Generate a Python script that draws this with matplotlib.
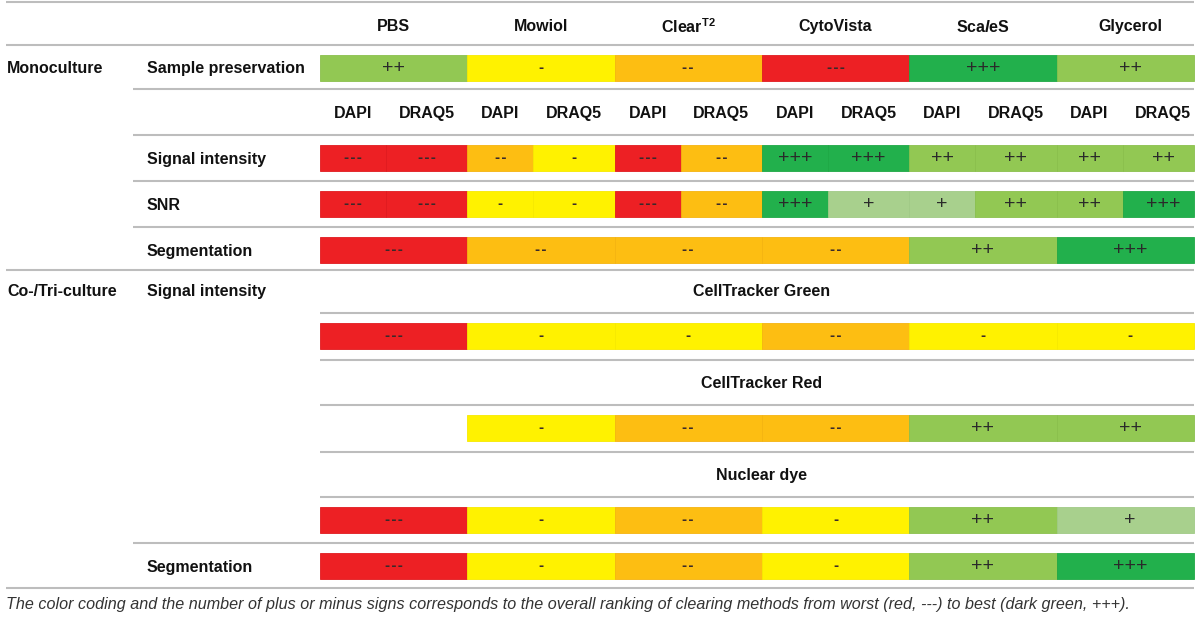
import matplotlib
matplotlib.use("Agg")
import matplotlib.pyplot as plt

plt.rcParams['font.family'] = ['Liberation Sans', 'DejaVu Sans']
plt.rcParams['mathtext.fontset'] = 'custom'
plt.rcParams['mathtext.bf'] = 'Liberation Sans:weight=bold'
plt.rcParams['mathtext.it'] = 'Liberation Sans:style=italic:weight=bold'
plt.rcParams['mathtext.rm'] = 'Liberation Sans:weight=bold'

# ---------------- data ----------------
methods = ['PBS', 'Mowiol', r'Clear$^{\mathbf{T2}}$', 'CytoVista', r'Sca$\mathit{l}$eS', 'Glycerol']
dyes = ['DAPI', 'DRAQ5']

sample_preservation = ['++', '-', '--', '---', '+++', '++']
signal_intensity_mono = ['---', '---', '--', '-', '---', '--', '+++', '+++', '++', '++', '++', '++']
snr_mono = ['---', '---', '-', '-', '---', '--', '+++', '+', '+', '++', '++', '+++']
segmentation_mono = ['---', '--', '--', '--', '++', '+++']
celltracker_green = ['---', '-', '-', '--', '-', '-']
celltracker_red = [None, '-', '--', '--', '++', '++']
nuclear_dye = ['---', '-', '--', '-', '++', '+']
segmentation_co = ['---', '-', '--', '-', '++', '+++']

rating_colors = {
    '---': '#ED2024',
    '--': '#FDBE12',
    '-': '#FFF200',
    '+': '#A8D08D',
    '++': '#92C853',
    '+++': '#22B04C',
}
rating_edges = {
    '---': '#E01A1F',
    '--': '#F5B410',
    '-': '#F7EA00',
    '+': '#A0CA86',
    '++': '#8AC04C',
    '+++': '#1EA845',
}

caption = ("The color coding and the number of plus or minus signs corresponds to the overall "
           "ranking of clearing methods from worst (red, ---) to best (dark green, +++).")

# ---------------- layout ----------------
W, H = 1200, 617
fig = plt.figure(figsize=(W / 100, H / 100), dpi=100)
ax = fig.add_axes([0, 0, 1, 1])
ax.set_xlim(0, W)
ax.set_ylim(H, 0)
ax.axis('off')

col0 = 320.0
colw = 147.3
dapi_w = 66.0
right = 1194.0
cell_h = 26.0

full_lines = [2, 45, 270, 588]
mid_lines = [89, 135, 181, 227, 543]
inner_lines = [313, 360, 405, 452, 497]

line_col = '#BDBDBD'
for y in full_lines:
    ax.plot([6, right], [y, y], color=line_col, lw=1.5, solid_capstyle='butt')
for y in mid_lines:
    ax.plot([133, right], [y, y], color=line_col, lw=1.5, solid_capstyle='butt')
for y in inner_lines:
    ax.plot([col0, right], [y, y], color=line_col, lw=1.5, solid_capstyle='butt')

head_kw = dict(fontsize=11.5, fontweight='bold', color='#111111', va='center_baseline')


def method_span(i):
    x0 = col0 + i * colw
    x1 = min(x0 + colw, right)
    return x0, x1, x0 + colw / 2


def sub_span(j):
    i, k = divmod(j, 2)
    x0 = col0 + i * colw
    if k == 0:
        return x0, x0 + dapi_w, x0 + dapi_w / 2
    return x0 + dapi_w, min(x0 + colw, right), x0 + dapi_w + (colw - dapi_w) / 2


def draw_row(ratings, ytop, spanfunc):
    yc = ytop + 10 + cell_h / 2
    lefts, widths, cols, edges, labels, centers = [], [], [], [], [], []
    for j, r in enumerate(ratings):
        if r is None:
            continue
        x0, x1, cx = spanfunc(j)
        lefts.append(x0)
        widths.append(x1 - x0)
        cols.append(rating_colors[r])
        edges.append(rating_edges[r])
        labels.append(r)
        centers.append(cx)
    ax.barh([yc] * len(lefts), widths, left=lefts, height=cell_h, color=cols,
            edgecolor=edges, linewidth=0.6, align='center')
    for cx, lab in zip(centers, labels):
        if lab.startswith('+'):
            ax.text(cx, yc + 0.5, lab, ha='center', va='center', fontsize=14,
                    family='Liberation Sans', color='#2a2a2a')
        else:
            shown = '\u200a'.join(lab)
            ax.text(cx, yc + 0.8, shown, ha='center', va='center', fontsize=9,
                    family='DejaVu Sans', fontweight='bold', color='#3a2a2a')


# header
for i, m in enumerate(methods):
    x0 = col0 + i * colw
    ax.text(x0 + colw / 2, 25, m, ha='center', **head_kw)

# left labels
ax.text(7, 67, 'Monoculture', ha='left', **head_kw)
ax.text(147, 67, 'Sample preservation', ha='left', **head_kw)
ax.text(147, 158, 'Signal intensity', ha='left', **head_kw)
ax.text(147, 204, 'SNR', ha='left', **head_kw)
ax.text(147, 250, 'Segmentation', ha='left', **head_kw)
ax.text(7, 290, 'Co-/Tri-culture', ha='left', **head_kw)
ax.text(147, 290, 'Signal intensity', ha='left', **head_kw)
ax.text(147, 566, 'Segmentation', ha='left', **head_kw)

# dye sub-headers
for j in range(12):
    _, _, cx = sub_span(j)
    ax.text(cx, 112, dyes[j % 2], ha='center', **head_kw)

# section titles
table_mid = col0 + 3 * colw
ax.text(table_mid, 290, 'CellTracker Green', ha='center', **head_kw)
ax.text(table_mid, 382, 'CellTracker Red', ha='center', **head_kw)
ax.text(table_mid, 474, 'Nuclear dye', ha='center', **head_kw)

# rows
draw_row(sample_preservation, 45, method_span)
draw_row(signal_intensity_mono, 135, sub_span)
draw_row(snr_mono, 181, sub_span)
draw_row(segmentation_mono, 227, method_span)
draw_row(celltracker_green, 313, method_span)
draw_row(celltracker_red, 405, method_span)
draw_row(nuclear_dye, 497, method_span)
draw_row(segmentation_co, 543, method_span)

ax.text(6, 604, caption, ha='left', va='center', fontsize=11.6, style='italic', color='#333333')

fig.savefig('out.png', dpi=100)
